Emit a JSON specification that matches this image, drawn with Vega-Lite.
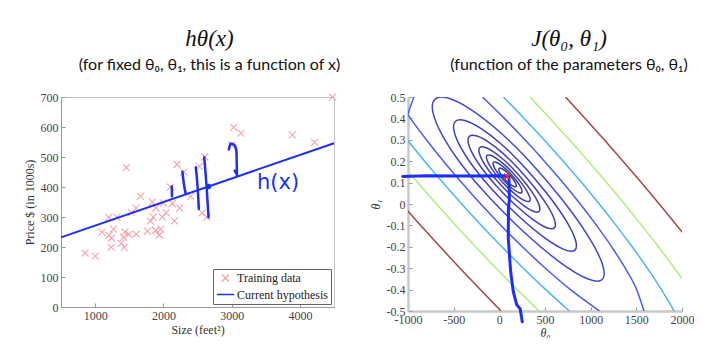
{
 "$schema": "https://vega.github.io/schema/vega-lite/v6.json",
 "background": "white",
 "padding": {"left": 22, "top": 27, "right": 0, "bottom": 0},
 "bounds": "flush",
 "spacing": 74,
 "resolve": {"scale": {"color": "independent", "shape": "independent", "size": "independent"}, "legend": {"color": "independent", "shape": "independent", "size": "independent"}},
 "config": {
  "view": {"stroke": null},
  "axis": {"labelFont": "Liberation Serif", "labelFontSize": 12, "labelColor": "#444", "titleFont": "Liberation Serif", "titleFontSize": 12, "titleColor": "#333", "titleFontWeight": "normal", "domainColor": "#9a9a9a", "tickColor": "#9a9a9a", "grid": false, "tickSize": -4, "labelPadding": 7, "labelOverlap": false, "labelFlush": false, "tickCount": 20},
  "title": {"font": "Liberation Serif", "fontStyle": "italic", "fontSize": 23, "fontWeight": "normal", "color": "#111", "subtitleFont": "Lato", "subtitleFontSize": 16, "subtitleColor": "#111", "subtitlePadding": 6, "offset": 18, "anchor": "middle"},
  "legend": {"orient": "bottom-right", "offset": 3, "padding": 3, "strokeColor": "#666", "fillColor": "white", "labelFont": "Liberation Serif", "labelFontSize": 12, "labelColor": "#222", "symbolStrokeWidth": 1.5, "rowPadding": 0, "labelOffset": 2}
 },
 "datasets": {
  "sc": [
   {"x":2104,"y":399.9,"s":"Training data"},{"x":1600,"y":329.9,"s":"Training data"},{"x":2400,"y":369,"s":"Training data"},{"x":1416,"y":232,"s":"Training data"},{"x":3000,"y":539.9,"s":"Training data"},{"x":1985,"y":299.9,"s":"Training data"},{"x":1534,"y":314.9,"s":"Training data"},{"x":1427,"y":199,"s":"Training data"},{"x":1380,"y":212,"s":"Training data"},{"x":1494,"y":242.5,"s":"Training data"},{"x":1940,"y":240,"s":"Training data"},{"x":2000,"y":347,"s":"Training data"},{"x":1890,"y":330,"s":"Training data"},{"x":4478,"y":699.9,"s":"Training data"},{"x":1268,"y":259.9,"s":"Training data"},{"x":2300,"y":449.9,"s":"Training data"},{"x":1320,"y":299.9,"s":"Training data"},{"x":1236,"y":199.9,"s":"Training data"},{"x":2609,"y":500,"s":"Training data"},{"x":3031,"y":599,"s":"Training data"},{"x":1767,"y":252.9,"s":"Training data"},{"x":1888,"y":255,"s":"Training data"},{"x":1604,"y":242.9,"s":"Training data"},{"x":1962,"y":259.9,"s":"Training data"},{"x":3890,"y":573.9,"s":"Training data"},{"x":1100,"y":249.9,"s":"Training data"},{"x":1458,"y":464.5,"s":"Training data"},{"x":2526,"y":469,"s":"Training data"},{"x":2200,"y":475,"s":"Training data"},{"x":2637,"y":299.9,"s":"Training data"},{"x":1839,"y":349.9,"s":"Training data"},{"x":1000,"y":169.9,"s":"Training data"},{"x":2040,"y":314.9,"s":"Training data"},{"x":3137,"y":579.9,"s":"Training data"},{"x":1811,"y":285.9,"s":"Training data"},{"x":1437,"y":249.9,"s":"Training data"},{"x":1239,"y":229.9,"s":"Training data"},{"x":2132,"y":345,"s":"Training data"},{"x":4215,"y":549,"s":"Training data"},{"x":2162,"y":287,"s":"Training data"},{"x":1664,"y":368.5,"s":"Training data"},{"x":2238,"y":329.9,"s":"Training data"},{"x":2567,"y":314,"s":"Training data"},{"x":1200,"y":299,"s":"Training data"},{"x":852,"y":179.9,"s":"Training data"},{"x":1852,"y":299.9,"s":"Training data"},{"x":1203,"y":239.5,"s":"Training data"}
  ],
  "hyp": [{"x":500,"y":232,"s":"Current hypothesis"},{"x":4500,"y":546,"s":"Current hypothesis"}],
  "hw": [
   {"k":"s1","i":0,"x":2123,"y":402},{"k":"s1","i":1,"x":2126,"y":369},
   {"k":"s2","i":0,"x":2279,"y":451},{"k":"s2","i":1,"x":2304,"y":405},{"k":"s2","i":2,"x":2328,"y":377},
   {"k":"s3","i":0,"x":2475,"y":466},{"k":"s3","i":1,"x":2500,"y":405},{"k":"s3","i":2,"x":2520,"y":327},
   {"k":"s4","i":0,"x":2598,"y":499},{"k":"s4","i":1,"x":2632,"y":405},{"k":"s4","i":2,"x":2662,"y":299},
   {"k":"s5","i":0,"x":2960,"y":525},{"k":"s5","i":1,"x":2985,"y":545},{"k":"s5","i":2,"x":3040,"y":540},{"k":"s5","i":3,"x":3070,"y":520},{"k":"s5","i":4,"x":3075,"y":480},{"k":"s5","i":5,"x":3078,"y":445},
   {"k":"s6","i":0,"x":3045,"y":455},{"k":"s6","i":1,"x":3078,"y":440}
  ],
  "ell": [
   {"c":"E1","i":0,"t0":1126.3,"t1":-0.3528},{"c":"E1","i":1,"t0":1130.5,"t1":-0.2837},{"c":"E1","i":2,"t0":975.9,"t1":-0.1524},{"c":"E1","i":3,"t0":687.1,"t1":0.0207},{"c":"E1","i":4,"t0":306.7,"t1":0.2098},{"c":"E1","i":5,"t0":-14.3,"t1":0.3434},{"c":"E1","i":6,"t0":-318.9,"t1":0.4433},{"c":"E1","i":7,"t0":-561.7,"t1":0.4949},{"c":"E1","i":8,"t0":-705.1,"t1":0.4898},{"c":"E1","i":9,"t0":-727.7,"t1":0.4291},{"c":"E1","i":10,"t0":-625.3,"t1":0.3219},{"c":"E1","i":11,"t0":-414.7,"t1":0.1848},{"c":"E1","i":12,"t0":-126.7,"t1":0.0382},{"c":"E1","i":13,"t0":286.7,"t1":-0.1379},{"c":"E1","i":14,"t0":669.5,"t1":-0.2738},{"c":"E1","i":15,"t0":964.5,"t1":-0.3495},
   {"c":"E2","i":0,"t0":827.8,"t1":-0.2154},{"c":"E2","i":1,"t0":831.6,"t1":-0.1659},{"c":"E2","i":2,"t0":722.2,"t1":-0.0722},{"c":"E2","i":3,"t0":517.2,"t1":0.0513},{"c":"E2","i":4,"t0":246.5,"t1":0.186},{"c":"E2","i":5,"t0":16.2,"t1":0.2818},{"c":"E2","i":6,"t0":-202.6,"t1":0.3533},{"c":"E2","i":7,"t0":-377.1,"t1":0.3902},{"c":"E2","i":8,"t0":-480.3,"t1":0.3864},{"c":"E2","i":9,"t0":-496.9,"t1":0.3428},{"c":"E2","i":10,"t0":-423.8,"t1":0.2657},{"c":"E2","i":11,"t0":-273.0,"t1":0.1672},{"c":"E2","i":12,"t0":-66.5,"t1":0.062},{"c":"E2","i":13,"t0":228.0,"t1":-0.0633},{"c":"E2","i":14,"t0":501.0,"t1":-0.1598},{"c":"E2","i":15,"t0":711.8,"t1":-0.2133},
   {"c":"E3","i":0,"t0":602.2,"t1":-0.1116},{"c":"E3","i":1,"t0":606.3,"t1":-0.0767},{"c":"E3","i":2,"t0":531.6,"t1":-0.0111},{"c":"E3","i":3,"t0":390.1,"t1":0.0749},{"c":"E3","i":4,"t0":202.4,"t1":0.1685},{"c":"E3","i":5,"t0":33.9,"t1":0.2387},{"c":"E3","i":6,"t0":-125.8,"t1":0.2913},{"c":"E3","i":7,"t0":-253.0,"t1":0.3185},{"c":"E3","i":8,"t0":-327.7,"t1":0.3161},{"c":"E3","i":9,"t0":-339.0,"t1":0.2845},{"c":"E3","i":10,"t0":-284.8,"t1":0.2283},{"c":"E3","i":11,"t0":-173.9,"t1":0.1565},{"c":"E3","i":12,"t0":-22.4,"t1":0.0795},{"c":"E3","i":13,"t0":182.3,"t1":-0.0073},{"c":"E3","i":14,"t0":372.6,"t1":-0.0741},{"c":"E3","i":15,"t0":520.3,"t1":-0.1107},
   {"c":"E4","i":0,"t0":435.4,"t1":-0.0349},{"c":"E4","i":1,"t0":440.0,"t1":-0.0106},{"c":"E4","i":2,"t0":391.0,"t1":0.0342},{"c":"E4","i":3,"t0":296.5,"t1":0.0925},{"c":"E4","i":4,"t0":170.3,"t1":0.1558},{"c":"E4","i":5,"t0":47.8,"t1":0.2069},{"c":"E4","i":6,"t0":-68.0,"t1":0.2453},{"c":"E4","i":7,"t0":-159.9,"t1":0.2653},{"c":"E4","i":8,"t0":-213.8,"t1":0.2637},{"c":"E4","i":9,"t0":-221.5,"t1":0.2409},{"c":"E4","i":10,"t0":-181.6,"t1":0.2003},{"c":"E4","i":11,"t0":-100.6,"t1":0.1481},{"c":"E4","i":12,"t0":9.7,"t1":0.0922},{"c":"E4","i":13,"t0":148.1,"t1":0.0337},{"c":"E4","i":14,"t0":277.4,"t1":-0.0108},{"c":"E4","i":15,"t0":378.4,"t1":-0.035},
   {"c":"E5","i":0,"t0":330.5,"t1":0.0134},{"c":"E5","i":1,"t0":333.7,"t1":0.0303},{"c":"E5","i":2,"t0":299.7,"t1":0.0615},{"c":"E5","i":3,"t0":234.0,"t1":0.1021},{"c":"E5","i":4,"t0":146.2,"t1":0.1462},{"c":"E5","i":5,"t0":56.1,"t1":0.184},{"c":"E5","i":6,"t0":-28.7,"t1":0.2126},{"c":"E5","i":7,"t0":-95.6,"t1":0.2278},{"c":"E5","i":8,"t0":-134.1,"t1":0.2271},{"c":"E5","i":9,"t0":-138.6,"t1":0.2108},{"c":"E5","i":10,"t0":-108.1,"t1":0.1812},{"c":"E5","i":11,"t0":-47.7,"t1":0.143},{"c":"E5","i":12,"t0":33.8,"t1":0.1018},{"c":"E5","i":13,"t0":130.2,"t1":0.0611},{"c":"E5","i":14,"t0":220.3,"t1":0.0301},{"c":"E5","i":15,"t0":290.7,"t1":0.0133},
   {"c":"E6","i":0,"t0":244.1,"t1":0.0531},{"c":"E6","i":1,"t0":247.1,"t1":0.0644},{"c":"E6","i":2,"t0":226.1,"t1":0.0847},{"c":"E6","i":3,"t0":184.6,"t1":0.1109},{"c":"E6","i":4,"t0":128.5,"t1":0.1393},{"c":"E6","i":5,"t0":66.6,"t1":0.1653},{"c":"E6","i":6,"t0":8.3,"t1":0.1849},{"c":"E6","i":7,"t0":-37.7,"t1":0.1954},{"c":"E6","i":8,"t0":-64.1,"t1":0.1949},{"c":"E6","i":9,"t0":-67.1,"t1":0.1836},{"c":"E6","i":10,"t0":-46.1,"t1":0.1633},{"c":"E6","i":11,"t0":-4.6,"t1":0.1371},{"c":"E6","i":12,"t0":51.5,"t1":0.1087},{"c":"E6","i":13,"t0":113.4,"t1":0.0827},{"c":"E6","i":14,"t0":171.7,"t1":0.0631},{"c":"E6","i":15,"t0":217.7,"t1":0.0526},
   {"c":"E7","i":0,"t0":182.3,"t1":0.0815},{"c":"E7","i":1,"t0":185.1,"t1":0.0886},{"c":"E7","i":2,"t0":173.5,"t1":0.1012},{"c":"E7","i":3,"t0":149.1,"t1":0.1171},{"c":"E7","i":4,"t0":115.7,"t1":0.1342},{"c":"E7","i":5,"t0":78.3,"t1":0.1497},{"c":"E7","i":6,"t0":42.9,"t1":0.1612},{"c":"E7","i":7,"t0":14.5,"t1":0.1672},{"c":"E7","i":8,"t0":-2.3,"t1":0.1665},{"c":"E7","i":9,"t0":-5.1,"t1":0.1594},{"c":"E7","i":10,"t0":6.5,"t1":0.1468},{"c":"E7","i":11,"t0":30.9,"t1":0.1309},{"c":"E7","i":12,"t0":64.3,"t1":0.1138},{"c":"E7","i":13,"t0":101.7,"t1":0.0983},{"c":"E7","i":14,"t0":137.1,"t1":0.0868},{"c":"E7","i":15,"t0":165.5,"t1":0.0808}
  ],
  "open": [
   {"c":"B1","t0":-184.4,"t1":0.5},{"c":"B1","t0":55.0,"t1":0.4},{"c":"B1","t0":280.4,"t1":0.3},{"c":"B1","t0":493.5,"t1":0.2},{"c":"B1","t0":695.2,"t1":0.1},{"c":"B1","t0":885.8,"t1":0},{"c":"B1","t0":1064.5,"t1":-0.1},{"c":"B1","t0":1229.7,"t1":-0.2},{"c":"B1","t0":1378.4,"t1":-0.3},{"c":"B1","t0":1503.5,"t1":-0.4},{"c":"B1","t0":1584.0,"t1":-0.5},
   {"c":"B2","t0":-1134.2,"t1":0.5},{"c":"B2","t0":-973.6,"t1":0.4},{"c":"B2","t0":-798.8,"t1":0.3},{"c":"B2","t0":-611.7,"t1":0.2},{"c":"B2","t0":-413.4,"t1":0.1},{"c":"B2","t0":-203.8,"t1":0},{"c":"B2","t0":17.7,"t1":-0.1},{"c":"B2","t0":252.5,"t1":-0.2},{"c":"B2","t0":504.0,"t1":-0.3},{"c":"B2","t0":779.1,"t1":-0.4},{"c":"B2","t0":1098.6,"t1":-0.5},
   {"c":"B3","t0":-1000,"t1":0.42},{"c":"B3","t0":-990,"t1":0.435},{"c":"B3","t0":-965,"t1":0.465},{"c":"B3","t0":-930,"t1":0.505},
   {"c":"C1","t0":44.7,"t1":0.5},{"c":"C1","t0":271.8,"t1":0.4},{"c":"C1","t0":489.9,"t1":0.3},{"c":"C1","t0":699.4,"t1":0.2},{"c":"C1","t0":900.7,"t1":0.1},{"c":"C1","t0":1093.8,"t1":0},{"c":"C1","t0":1278.6,"t1":-0.1},{"c":"C1","t0":1454.3,"t1":-0.2},{"c":"C1","t0":1620.3,"t1":-0.3},{"c":"C1","t0":1774.7,"t1":-0.4},{"c":"C1","t0":1914.8,"t1":-0.5},
   {"c":"C2","t0":-1190.4,"t1":0.4},{"c":"C2","t0":-1008.3,"t1":0.3},{"c":"C2","t0":-817.6,"t1":0.2},{"c":"C2","t0":-618.9,"t1":0.1},{"c":"C2","t0":-411.8,"t1":0},{"c":"C2","t0":-196.4,"t1":-0.1},{"c":"C2","t0":27.9,"t1":-0.2},{"c":"C2","t0":262.1,"t1":-0.3},{"c":"C2","t0":507.9,"t1":-0.4},{"c":"C2","t0":767.8,"t1":-0.5},
   {"c":"G1","t0":334.5,"t1":0.5},{"c":"G1","t0":553.9,"t1":0.4},{"c":"G1","t0":767.0,"t1":0.3},{"c":"G1","t0":974.0,"t1":0.2},{"c":"G1","t0":1174.9,"t1":0.1},{"c":"G1","t0":1370.0,"t1":0},{"c":"G1","t0":1558.9,"t1":-0.1},{"c":"G1","t0":1741.5,"t1":-0.2},{"c":"G1","t0":1917.5,"t1":-0.3},{"c":"G1","t0":2086.4,"t1":-0.4},
   {"c":"G2","t0":-1092.2,"t1":0.2},{"c":"G2","t0":-893.1,"t1":0.1},{"c":"G2","t0":-688.0,"t1":0},{"c":"G2","t0":-476.7,"t1":-0.1},{"c":"G2","t0":-259.3,"t1":-0.2},{"c":"G2","t0":-35.1,"t1":-0.3},{"c":"G2","t0":196.2,"t1":-0.4},{"c":"G2","t0":435.3,"t1":-0.5},
   {"c":"R1","t0":725.5,"t1":0.5},{"c":"R1","t0":939.5,"t1":0.4},{"c":"R1","t0":1149.0,"t1":0.3},{"c":"R1","t0":1354.2,"t1":0.2},{"c":"R1","t0":1554.8,"t1":0.1},{"c":"R1","t0":1751.2,"t1":0},{"c":"R1","t0":1943.2,"t1":-0.1},{"c":"R1","t0":2130.6,"t1":-0.2},
   {"c":"R2","t0":-1069.2,"t1":0},{"c":"R2","t0":-861.0,"t1":-0.1},{"c":"R2","t0":-648.4,"t1":-0.2},{"c":"R2","t0":-431.1,"t1":-0.3},{"c":"R2","t0":-209.0,"t1":-0.4},{"c":"R2","t0":18.1,"t1":-0.5}
  ],
  "hw2": [
   {"i":0,"t0":-1058,"t1":0.129},{"i":1,"t0":-795,"t1":0.132},{"i":2,"t0":-431,"t1":0.131},{"i":3,"t0":81,"t1":0.132},{"i":4,"t0":105,"t1":0.128},{"i":5,"t0":110,"t1":0.02},{"i":6,"t0":100,"t1":-0.02},{"i":7,"t0":98,"t1":-0.16},{"i":8,"t0":124,"t1":-0.316},{"i":9,"t0":153,"t1":-0.41},{"i":10,"t0":190,"t1":-0.47},{"i":11,"t0":228,"t1":-0.49},{"i":12,"t0":236,"t1":-0.51},{"i":13,"t0":251,"t1":-0.55}
  ]
 },
 "hconcat": [
  {
   "width": 273, "height": 210,
   "view": {"stroke": "#c4c4c4"},
   "title": {"text": "hθ(x)", "subtitle": "(for fixed θ₀, θ₁, this is a function of x)", "dx": 12},
   "layer": [
    {
     "data": {"name": "sc"},
     "mark": {"type": "point", "filled": false, "strokeWidth": 1.1, "opacity": 1},
     "encoding": {
      "x": {"field": "x", "type": "quantitative", "scale": {"domain": [500, 4500], "nice": false, "zero": false}, "axis": {"values": [1000, 2000, 3000, 4000], "format": "d", "title": "Size (feet²)", "titlePadding": 3, "labelOverlap": false, "labelFlush": false, "tickCount": 20}},
      "y": {"field": "y", "type": "quantitative", "scale": {"domain": [0, 700], "nice": false}, "axis": {"values": [0, 100, 200, 300, 400, 500, 600, 700], "title": "Price $ (in 1000s)", "titlePadding": 4, "labelOverlap": false, "labelFlush": false, "tickCount": 20}},
      "color": {"field": "s", "type": "nominal", "scale": {"domain": ["Training data", "Current hypothesis"], "range": ["#f4a3ab", "#1f2ff0"]}, "legend": {"title": null}},
      "shape": {"field": "s", "type": "nominal", "scale": {"domain": ["Training data", "Current hypothesis"], "range": ["M-1,-1L1,1M-1,1L1,-1", "stroke"]}, "legend": {"title": null}},
      "size": {"field": "s", "type": "ordinal", "scale": {"domain": ["Training data", "Current hypothesis"], "range": [49, 300]}, "legend": {"title": null}}
     }
    },
    {
     "data": {"name": "hyp"},
     "mark": {"type": "line", "strokeWidth": 2},
     "encoding": {
      "x": {"field": "x", "type": "quantitative"},
      "y": {"field": "y", "type": "quantitative"},
      "color": {"field": "s", "type": "nominal", "scale": {"domain": ["Training data", "Current hypothesis"], "range": ["#f4a3ab", "#1f2ff0"]}, "legend": {"title": null}}
     }
    },
    {
     "data": {"name": "hw"},
     "mark": {"type": "line", "color": "#1b2dff", "strokeWidth": 2.5, "interpolate": "monotone", "strokeCap": "round"},
     "encoding": {
      "x": {"field": "x", "type": "quantitative"},
      "y": {"field": "y", "type": "quantitative"},
      "detail": {"field": "k"},
      "order": {"field": "i", "type": "quantitative"}
     }
    },
    {
     "data": {"values": [{"x": 2662, "y": 402}]},
     "mark": {"type": "point", "filled": true, "color": "#1b2dff", "size": 30, "opacity": 1},
     "encoding": {"x": {"field": "x", "type": "quantitative"}, "y": {"field": "y", "type": "quantitative"}}
    },
    {
     "data": {"values": [{"x": 3680, "y": 412, "t": "h(x)"}]},
     "mark": {"type": "text", "font": "DejaVu Sans", "fontSize": 21, "color": "#1b2dff"},
     "encoding": {"x": {"field": "x", "type": "quantitative"}, "y": {"field": "y", "type": "quantitative"}, "text": {"field": "t"}}
    }
   ]
  },
  {
   "width": 274, "height": 214,
   "title": {"text": "J(θ₀, θ₁)", "subtitle": "(function of the parameters θ₀, θ₁)", "dx": 24},
   "layer": [
    {
     "data": {"name": "open"},
     "mark": {"type": "line", "strokeWidth": 1.5, "interpolate": "monotone", "clip": true},
     "encoding": {
      "x": {"field": "t0", "type": "quantitative", "scale": {"domain": [-1000, 2000], "nice": false, "zero": false}, "axis": {"values": [-1000, -500, 0, 500, 1000, 1500, 2000], "labelExpr": "replace(format(datum.value, 'd'), '\u2212', '-')", "title": "θ₀", "titleFontStyle": "italic", "titlePadding": 2, "domainColor": "#c8c8c8", "domainWidth": 2.5, "labelOverlap": false, "labelFlush": false, "tickCount": 20}},
      "y": {"field": "t1", "type": "quantitative", "scale": {"domain": [-0.5, 0.5], "nice": false, "zero": false}, "axis": {"values": [-0.5, -0.4, -0.3, -0.2, -0.1, 0, 0.1, 0.2, 0.3, 0.4, 0.5], "labelExpr": "replace(format(datum.value, '~g'), '\u2212', '-')", "title": "θ₁", "titleFontStyle": "italic", "titlePadding": 4, "domainColor": "#c8c8c8", "domainWidth": 2.5, "labelOverlap": false, "labelFlush": false, "tickCount": 20}},
      "color": {"field": "c", "type": "nominal", "legend": null, "scale": {"domain": ["E1","E2","E3","E4","E5","E6","E7","B1","B2","B3","C1","C2","G1","G2","R1","R2"], "range": ["#3f48d6","#3c3fc8","#4040b8","#4141aa","#40409e","#3d3d94","#3a3a8a","#4a5ef2","#4a5ef2","#4a5ef2","#48b6f2","#48b6f2","#acf07a","#acf07a","#a34646","#a34646"]}}
     }
    },
    {
     "data": {"name": "ell"},
     "mark": {"type": "line", "strokeWidth": 1.5, "interpolate": "cardinal-closed", "clip": true},
     "encoding": {
      "x": {"field": "t0", "type": "quantitative"},
      "y": {"field": "t1", "type": "quantitative"},
      "order": {"field": "i", "type": "quantitative"},
      "color": {"field": "c", "type": "nominal", "legend": null, "scale": {"domain": ["E1","E2","E3","E4","E5","E6","E7","B1","B2","B3","C1","C2","G1","G2","R1","R2"], "range": ["#3f48d6","#3c3fc8","#4040b8","#4141aa","#40409e","#3d3d94","#3a3a8a","#4a5ef2","#4a5ef2","#4a5ef2","#48b6f2","#48b6f2","#acf07a","#acf07a","#a34646","#a34646"]}}
     }
    },
    {
     "data": {"name": "hw2"},
     "mark": {"type": "line", "color": "#1b2dff", "strokeWidth": 3, "interpolate": "linear", "clip": false, "strokeCap": "round", "strokeJoin": "round"},
     "encoding": {
      "x": {"field": "t0", "type": "quantitative"},
      "y": {"field": "t1", "type": "quantitative"},
      "order": {"field": "i", "type": "quantitative"}
     }
    },
    {
     "data": {"values": [{"t0": 87, "t1": 0.128}]},
     "mark": {"type": "point", "shape": "M-1,-1L1,1M-1,1L1,-1", "filled": false, "color": "#e03030", "size": 40, "strokeWidth": 1.5, "opacity": 1},
     "encoding": {"x": {"field": "t0", "type": "quantitative"}, "y": {"field": "t1", "type": "quantitative"}}
    }
   ]
  }
 ]
}
